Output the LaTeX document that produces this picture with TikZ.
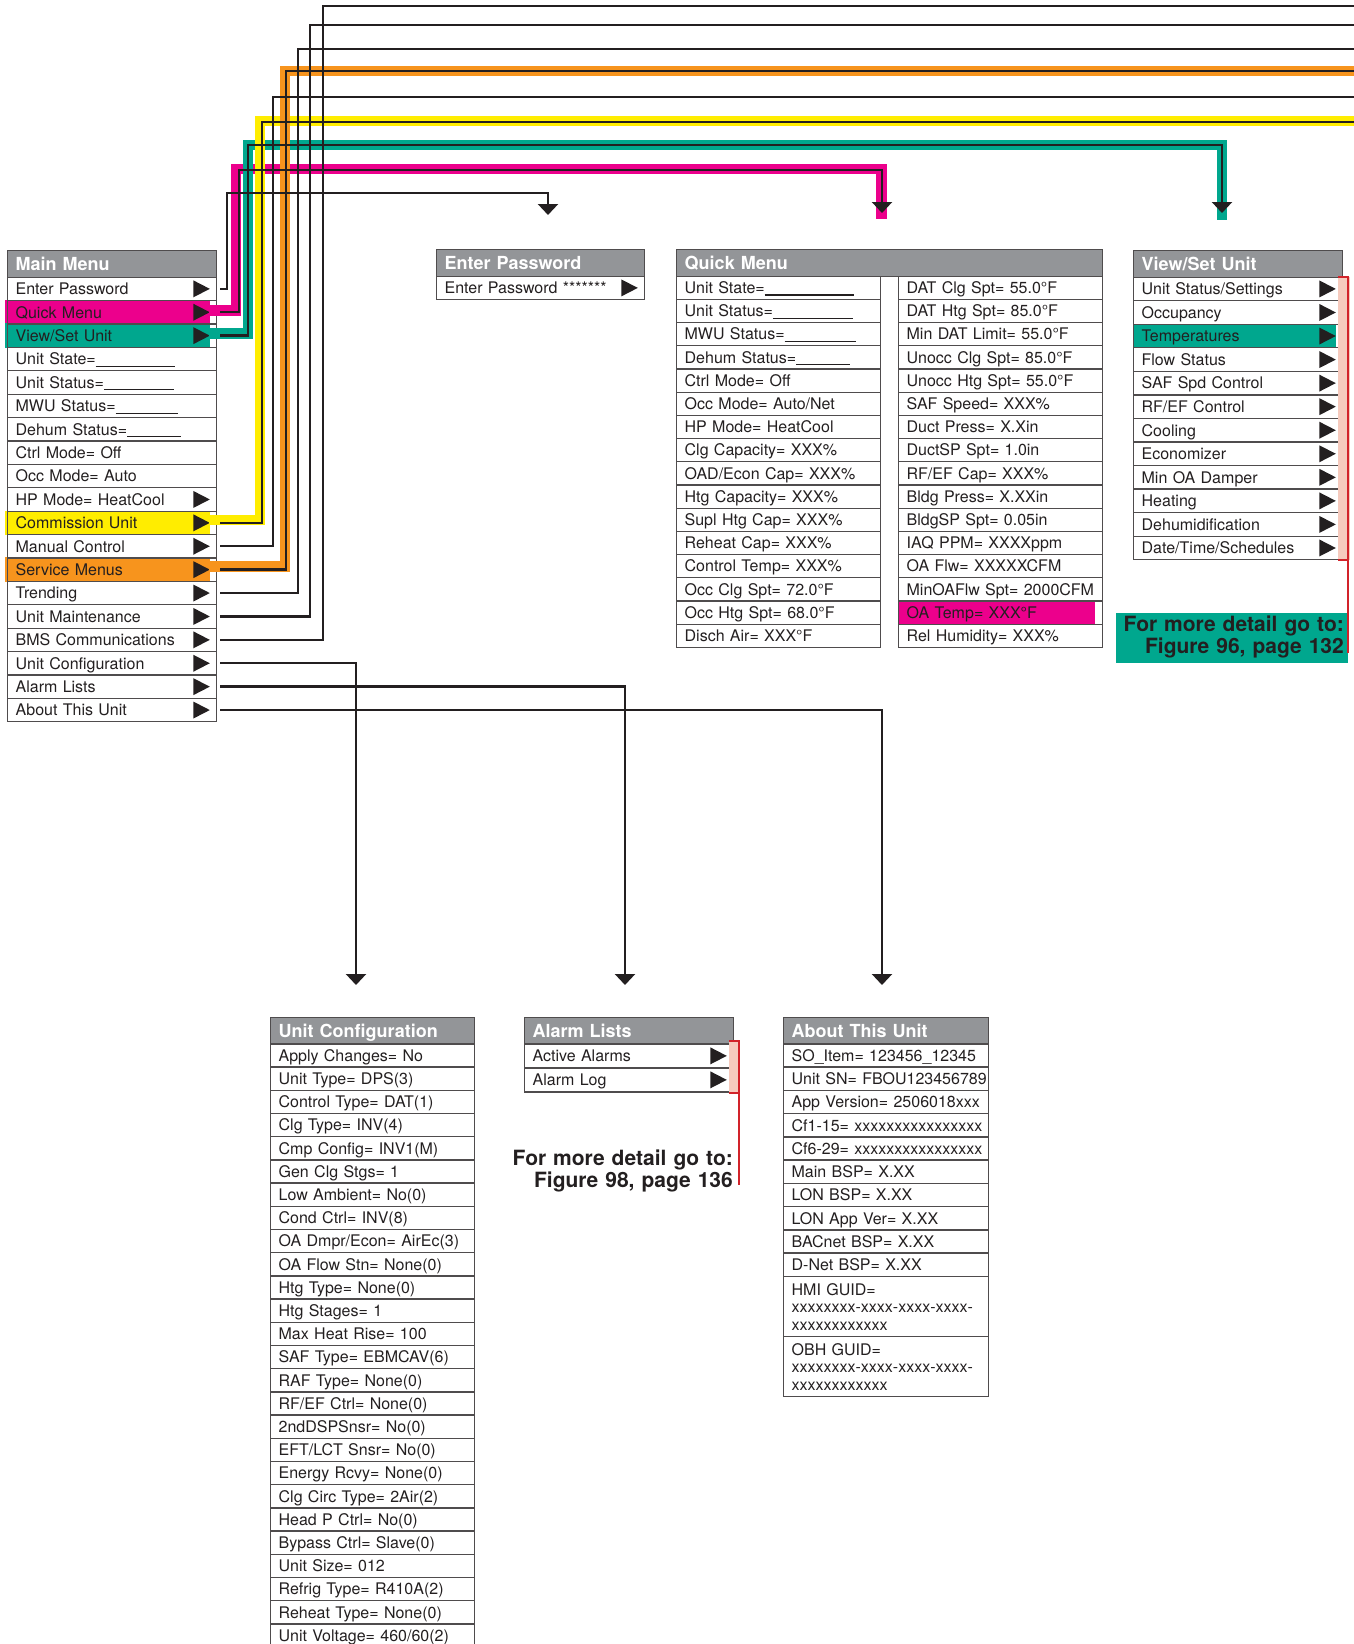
\documentclass[tikz,border=0pt]{standalone}
\usepackage{fontspec}
\setmainfont{TeX Gyre Heros}
\usetikzlibrary{arrows.meta}

\definecolor{ink}{HTML}{231F20}
\definecolor{headgray}{HTML}{939598}
\definecolor{qmpink}{HTML}{EC008C}
\definecolor{vsteal}{HTML}{00A78E}
\definecolor{cuyellow}{HTML}{FFED00}
\definecolor{smorange}{HTML}{F7941D}
\definecolor{notepink}{HTML}{F6CBBE}
\definecolor{notered}{HTML}{D2232A}

\pgfdeclarelayer{back}
\pgfsetlayers{back,main}

\newcommand{\blank}[1]{\rule[-2bp]{#1bp}{1.1bp}}
\newcommand{\rowfont}{\fontsize{16bp}{17.5bp}\selectfont}
\newcommand{\headfont}{\fontsize{18bp}{18bp}\selectfont\bfseries}
\newcommand{\notefont}{\fontsize{21bp}{22.5bp}\selectfont\bfseries}

\tikzset{
  menubox/.style={draw=ink!80, line width=1.3bp, anchor=north west,
    inner xsep=8bp, inner ysep=0pt, align=left},
  menuhead/.style={menubox, fill=headgray, text=white, minimum height=26.5bp,
    text height=13bp, text depth=0pt, font=\headfont},
  menurow/.style={menubox, text=ink, minimum height=#1, text height=11.6bp,
    text depth=0pt, font=\rowfont},
  menurow/.default=23.4bp,
  guidrow/.style={menubox, text=ink, text height=19bp, text depth=41bp,
    font=\rowfont},
  rowarrow/.style={fill=ink},
  link/.style={draw=ink, line width=2.4bp},
  linkdown/.style={link, -{Triangle[width=20bp,length=11bp]}},
  band/.style={line width=10.5bp},
  notetext/.style={font=\notefont, text=ink, align=right, inner sep=0pt},
  bracket/.style={draw=notered, line width=2bp}
}

\begin{document}
\begin{tikzpicture}[x=1bp, y=-1bp]
  \useasboundingbox (0,0) rectangle (1354,1644);

  % Main Menu
  \node[menuhead, text width=193bp] (mm) at (7,250) {Main Menu};
  \foreach \t [count=\i] in {Enter Password, Quick Menu, View/Set Unit,
      Unit State=\blank{79}, Unit Status=\blank{70}, MWU Status=\blank{62},
      Dehum Status=\blank{54}, Ctrl Mode= Off, Occ Mode= Auto,
      HP Mode= HeatCool, Commission Unit, Manual Control, Service Menus,
      Trending, Unit Maintenance, BMS Communications, Unit Configuration,
      Alarm Lists, About This Unit}
    \node[menurow, text width=193bp] (mm-\i) at (7,{276.5+(\i-1)*23.4}) {\mbox{\t}};
  \foreach \i in {1,2,3,10,11,12,13,14,15,16,17,18,19}
    \fill[rowarrow] ([xshift=-7.5bp]mm-\i.east) -- ++(-16.5,-8.5) -- ++(0,17) -- cycle;

  % Enter Password
  \node[menuhead, text width=192bp] (ep) at (436,249) {Enter Password};
  \node[menurow=23.5bp, text width=192bp] (ep-1) at (436,275.5) {Enter Password *******};
  \fill[rowarrow] ([xshift=-7.5bp]ep-1.east) -- ++(-16.5,-8.5) -- ++(0,17) -- cycle;

  % Quick Menu, two columns
  \node[menuhead, text width=410bp] (qm) at (676,249) {Quick Menu};
  \foreach \t [count=\i] in {Unit State=\blank{89}, Unit Status=\blank{80},
      MWU Status=\blank{71}, Dehum Status=\blank{54}, Ctrl Mode= Off,
      Occ Mode= Auto/Net, HP Mode= HeatCool, Clg Capacity= XXX\%,
      OAD/Econ Cap= XXX\%, Htg Capacity= XXX\%, Supl Htg Cap= XXX\%,
      Reheat Cap= XXX\%, Control Temp= XXX\%, Occ Clg Spt= 72.0°F,
      Occ Htg Spt= 68.0°F, Disch Air= XXX°F}
    \node[menurow=23.2bp, text width=188bp] (qml-\i) at (676,{275.5+(\i-1)*23.2}) {\mbox{\t}};
  \foreach \t [count=\i] in {DAT Clg Spt= 55.0°F, DAT Htg Spt= 85.0°F,
      Min DAT Limit= 55.0°F, Unocc Clg Spt= 85.0°F, Unocc Htg Spt= 55.0°F,
      SAF Speed= XXX\%, Duct Press= X.Xin, DuctSP Spt= 1.0in,
      RF/EF Cap= XXX\%, Bldg Press= X.XXin, BldgSP Spt= 0.05in,
      IAQ PPM= XXXXppm, OA Flw= XXXXXCFM, MinOAFlw Spt= 2000CFM,
      OA Temp= XXX°F, Rel Humidity= XXX\%}
    \node[menurow=23.2bp, text width=188bp] (qmr-\i) at (898,{275.5+(\i-1)*23.2}) {\mbox{\t}};

  % View/Set Unit
  \node[menuhead, text width=193bp] (vs) at (1133,250) {View/Set Unit};
  \foreach \t [count=\i] in {Unit Status/Settings, Occupancy, Temperatures,
      Flow Status, SAF Spd Control, RF/EF Control, Cooling, Economizer,
      Min OA Damper, Heating, Dehumidification, Date/Time/Schedules}
  {
    \node[menurow=23.55bp, text width=193bp] (vs-\i) at (1133,{276.5+(\i-1)*23.55}) {\mbox{\t}};
    \fill[rowarrow] ([xshift=-7.5bp]vs-\i.east) -- ++(-16.5,-8.5) -- ++(0,17) -- cycle;
  }

  % Unit Configuration
  \node[menuhead, text width=188bp] (uc) at (270,1016.7) {Unit Configuration};
  \foreach \t [count=\i] in {Apply Changes= No, Unit Type= DPS(3),
      Control Type= DAT(1), Clg Type= INV(4), Cmp Config= INV1(M),
      Gen Clg Stgs= 1, Low Ambient= No(0), Cond Ctrl= INV(8),
      OA Dmpr/Econ= AirEc(3), OA Flow Stn= None(0), Htg Type= None(0),
      Htg Stages= 1, Max Heat Rise= 100, SAF Type= EBMCAV(6),
      RAF Type= None(0), RF/EF Ctrl= None(0), 2ndDSPSnsr= No(0),
      EFT/LCT Snsr= No(0), Energy Rcvy= None(0), Clg Circ Type= 2Air(2),
      Head P Ctrl= No(0), Bypass Ctrl= Slave(0), Unit Size= 012,
      Refrig Type= R410A(2), Reheat Type= None(0), Unit Voltage= 460/60(2)}
    \node[menurow=23.2bp, text width=188bp] (uc-\i) at (270,{1043.2+(\i-1)*23.2}) {\mbox{\t}};

  % Alarm Lists
  \node[menuhead, text width=193bp] (al) at (524,1016.7) {Alarm Lists};
  \foreach \t [count=\i] in {Active Alarms, Alarm Log}
  {
    \node[menurow=24bp, text width=193bp] (al-\i) at (524,{1043.2+(\i-1)*24}) {\mbox{\t}};
    \fill[rowarrow] ([xshift=-7.5bp]al-\i.east) -- ++(-16.5,-8.5) -- ++(0,17) -- cycle;
  }

  % About This Unit
  \node[menuhead, text width=188.5bp] (au) at (783,1016.7) {About This Unit};
  \foreach \t [count=\i] in {SO\_Item= 123456\_12345, Unit SN= FBOU123456789,
      App Version= 2506018xxx, Cf1-15= xxxxxxxxxxxxxxxx,
      Cf6-29= xxxxxxxxxxxxxxxx, Main BSP= X.XX, LON BSP= X.XX,
      LON App Ver= X.XX, BACnet BSP= X.XX, D-Net BSP= X.XX}
    \node[menurow=23.25bp, text width=188.5bp] (au-\i) at (783,{1043.2+(\i-1)*23.25}) {\mbox{\t}};
  \node[guidrow, text width=188.5bp] (au-11) at (783,1275.7)
    {HMI GUID=\\xxxxxxxx-xxxx-xxxx-xxxx-\\xxxxxxxxxxxx};
  \node[guidrow, text width=188.5bp] (au-12) at (783,1335.7)
    {OBH GUID=\\xxxxxxxx-xxxx-xxxx-xxxx-\\xxxxxxxxxxxx};

  % highlighted rows
  \begin{pgfonlayer}{back}
    \fill[qmpink] ([xshift=-2bp]mm-2.north west) rectangle ([xshift=-7bp]mm-2.south east);
    \fill[vsteal] ([xshift=-2bp]mm-3.north west) rectangle ([xshift=-7bp]mm-3.south east);
    \fill[cuyellow] ([xshift=-2bp]mm-11.north west) rectangle ([xshift=-7bp]mm-11.south east);
    \fill[smorange] ([xshift=-2bp]mm-13.north west) rectangle ([xshift=-7bp]mm-13.south east);
    \fill[qmpink] (qmr-15.north west) rectangle ([xshift=-8bp]qmr-15.south east);
    \fill[vsteal] (vs-3.north west) rectangle ([xshift=-7bp]vs-3.south east);
  \end{pgfonlayer}

  % arrow ends
  \coordinate (ep-in) at (548,215);
  \coordinate (qm-in) at (882,213);
  \coordinate (vs-in) at (1222,213);
  \coordinate (uc-in) at (356,985);
  \coordinate (al-in) at (625,985);
  \coordinate (au-in) at (882,985);

  % coloured bands under the links
  \draw[band, qmpink] ([xshift=-8bp,yshift=2bp]mm-2.east) -| (236,169) -| (881.5,219);
  \draw[band, vsteal] ([xshift=-8bp,yshift=2bp]mm-3.east) -| (248,145) -| (1222,220);
  \draw[band, cuyellow] ([xshift=-8bp,yshift=3bp]mm-11.east) -| (260,121) -- (1354,121);
  \draw[band, smorange] ([xshift=-8bp,yshift=3bp]mm-13.east) -| (285,71) -- (1354,71);

  % links from the Main Menu
  \draw[linkdown] ([xshift=3bp]mm-1.east) -| (227,193) -| (ep-in);
  \draw[linkdown] ([xshift=3bp]mm-2.east) -| (239,170) -| (qm-in);
  \draw[linkdown] ([xshift=3bp]mm-3.east) -| (248,145) -| (vs-in);
  \draw[link] ([xshift=3bp]mm-11.east) -| (262,122) -- (1354,122);
  \draw[link] ([xshift=3bp]mm-12.east) -| (273,97) -- (1354,97);
  \draw[link] ([xshift=3bp]mm-13.east) -| (286,71) -- (1354,71);
  \draw[link] ([xshift=3bp]mm-14.east) -| (298,49) -- (1354,49);
  \draw[link] ([xshift=3bp]mm-15.east) -| (310,25) -- (1354,25);
  \draw[link] ([xshift=3bp]mm-16.east) -| (323,6) -- (1354,6);
  \draw[linkdown] ([xshift=3bp]mm-17.east) -| (uc-in);
  \draw[linkdown] ([xshift=3bp]mm-18.east) -| (al-in);
  \draw[linkdown] ([xshift=3bp]mm-19.east) -| (au-in);

  % View/Set Unit note
  \fill[notepink] ([xshift=-5bp]vs-1.north east) rectangle ([xshift=7bp]vs-12.south east);
  \node[notetext, fill=vsteal, anchor=north east, text width=224bp, inner xsep=4bp,
    text height=18bp, text depth=32bp] (vs-note) at (1348,613)
    {For more detail go to:\\Figure 96, page 132};
  \draw[bracket] ([xshift=-5bp]vs-1.north east) -| (1348,653);
  \draw[bracket] ([xshift=-5bp]vs-12.south east) -- ++(11,0);

  % Alarm Lists note
  \fill[notepink] ([xshift=-5bp,yshift=2.5bp]al-1.north east) rectangle ([xshift=6bp]al-2.south east);
  \node[notetext, anchor=north east, text width=240bp, text height=15bp] (al-note)
    at (733,1150) {For more detail go to:\\Figure 98, page 136};
  \draw[bracket] ([xshift=-5bp,yshift=2.5bp]al-1.north east) -| (739,1185);
  \draw[bracket] ([xshift=-5bp]al-2.south east) -- ++(11,0);
\end{tikzpicture}
\end{document}
